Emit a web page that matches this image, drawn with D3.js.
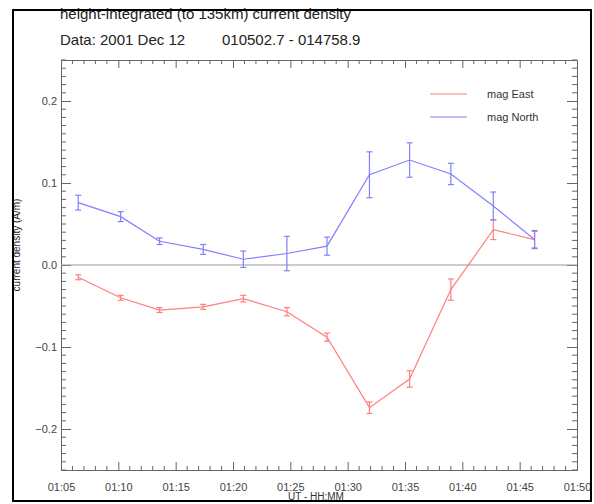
<!DOCTYPE html>
<html>
<head>
<meta charset="utf-8">
<script src="https://cdn.jsdelivr.net/npm/d3@7"></script>
<style>
  body { margin: 0; background: #fff; }
  svg text { font-family: "Liberation Sans", Arial, sans-serif; }
</style>
</head>
<body>
<div id="chart"></div>
<script>
// DATA (time in minutes after 01:00 UT)
const times = [6.5, 10.2, 13.6, 17.4, 20.9, 24.7, 28.2, 31.9, 35.4, 39.0, 42.7, 46.3]
const eastValues = [-0.015, -0.040, -0.055, -0.051, -0.041, -0.057, -0.088, -0.174, -0.139, -0.030, 0.043, 0.031]
const eastErrors = [0.003, 0.003, 0.003, 0.003, 0.004, 0.005, 0.005, 0.007, 0.010, 0.013, 0.012, 0.010]
const northValues = [0.076, 0.059, 0.029, 0.019, 0.007, 0.014, 0.023, 0.110, 0.128, 0.111, 0.072, 0.031]
const northErrors = [0.009, 0.006, 0.004, 0.006, 0.010, 0.021, 0.011, 0.028, 0.021, 0.013, 0.017, 0.011]
const xTickLabels = ["01:05", "01:10", "01:15", "01:20", "01:25", "01:30", "01:35", "01:40", "01:45", "01:50"]
const yTicks = [-0.2, -0.1, 0.0, 0.1, 0.2]

const series = [
  { name: "mag East", color: "#ff7f7f", values: eastValues, errors: eastErrors },
  { name: "mag North", color: "#8080ff", values: northValues, errors: northErrors },
]

// DIMENSIONS
const dimensions = {
  width: 594,
  height: 504,
  margin: { top: 60, right: 17, bottom: 34, left: 61 },
}
dimensions.boundedWidth = dimensions.width - dimensions.margin.left - dimensions.margin.right
dimensions.boundedHeight = dimensions.height - dimensions.margin.top - dimensions.margin.bottom

const wrapper = d3.select("#chart")
  .append("svg")
  .attr("width", dimensions.width)
  .attr("height", dimensions.height)

// TITLES
wrapper.append("text")
  .attr("x", 60).attr("y", 19)
  .attr("font-size", 15).attr("fill", "#222")
  .text("height-integrated (to 135km) current density")
wrapper.append("text")
  .attr("x", 60).attr("y", 45)
  .attr("font-size", 15).attr("fill", "#222")
  .text("Data: 2001 Dec 12")
wrapper.append("text")
  .attr("x", 222).attr("y", 45)
  .attr("font-size", 15).attr("fill", "#222")
  .text("010502.7 - 014758.9")

const bounds = wrapper.append("g")
  .attr("transform", `translate(${dimensions.margin.left},${dimensions.margin.top})`)

// SCALES
const xScale = d3.scaleLinear()
  .domain([5, 50])
  .range([0, dimensions.boundedWidth])
const yScale = d3.scaleLinear()
  .domain([-0.25, 0.25])
  .range([dimensions.boundedHeight, 0])

const axisColor = "#666"
const majorX = 8, minorX = 4, majorY = 10, minorY = 5

// AXES (IDL style, ticks inward on all four sides)
const xMajor = d3.range(5, 51, 5)
const xMinor = d3.range(5, 51, 1).filter(d => d % 5 !== 0)
const yMinor = d3.range(-25, 26, 1).map(d => d / 100).filter(d => Math.round(d * 100) % 10 !== 0)

const xAxisBottom = d3.axisBottom(xScale).tickValues(xMajor)
  .tickSize(-majorX).tickPadding(13)
  .tickFormat((d, i) => xTickLabels[i])
const xAxisTop = d3.axisTop(xScale).tickValues(xMajor)
  .tickSize(-majorX).tickFormat("")
const yAxisLeft = d3.axisLeft(yScale).tickValues(yTicks)
  .tickSize(-majorY).tickPadding(4)
  .tickFormat(d3.format(".1f"))
const yAxisRight = d3.axisRight(yScale).tickValues(yTicks)
  .tickSize(-majorY).tickFormat("")

const styleAxis = g => {
  g.select(".domain").attr("stroke", axisColor)
  g.selectAll(".tick line").attr("stroke", axisColor)
  g.selectAll(".tick text").attr("fill", "#444").attr("font-size", 11)
}

bounds.append("g").attr("transform", `translate(0,${dimensions.boundedHeight})`)
  .call(xAxisBottom).call(styleAxis)
bounds.append("g").call(xAxisTop).call(styleAxis)
bounds.append("g").call(yAxisLeft).call(styleAxis)
bounds.append("g").attr("transform", `translate(${dimensions.boundedWidth},0)`)
  .call(yAxisRight).call(styleAxis)

// minor ticks
const minor = bounds.append("g").attr("stroke", axisColor)
minor.selectAll(".mxb").data(xMinor).join("line").attr("class", "mxb")
  .attr("x1", d => xScale(d)).attr("x2", d => xScale(d))
  .attr("y1", dimensions.boundedHeight).attr("y2", dimensions.boundedHeight - minorX)
minor.selectAll(".mxt").data(xMinor).join("line").attr("class", "mxt")
  .attr("x1", d => xScale(d)).attr("x2", d => xScale(d))
  .attr("y1", 0).attr("y2", minorX)
minor.selectAll(".myl").data(yMinor).join("line").attr("class", "myl")
  .attr("x1", 0).attr("x2", minorY)
  .attr("y1", d => yScale(d)).attr("y2", d => yScale(d))
minor.selectAll(".myr").data(yMinor).join("line").attr("class", "myr")
  .attr("x1", dimensions.boundedWidth).attr("x2", dimensions.boundedWidth - minorY)
  .attr("y1", d => yScale(d)).attr("y2", d => yScale(d))

// zero line
bounds.append("line")
  .attr("x1", 0).attr("x2", dimensions.boundedWidth)
  .attr("y1", yScale(0)).attr("y2", yScale(0))
  .attr("stroke", "#999").attr("stroke-width", 1.2)

// axis labels
bounds.append("text")
  .attr("transform", `translate(${20 - dimensions.margin.left},${yScale(0) - 20}) rotate(-90)`)
  .attr("text-anchor", "middle")
  .attr("font-size", 10).attr("fill", "#222")
  .text("current density (A/m)")
bounds.append("text")
  .attr("x", xScale(27.5) - 3).attr("y", dimensions.boundedHeight + 30)
  .attr("text-anchor", "middle")
  .attr("font-size", 10).attr("fill", "#333")
  .text("UT - HH:MM")

// SERIES
const line = d3.line()
  .x((d, i) => xScale(times[i]))
  .y(d => yScale(d))

series.forEach(s => {
  const g = bounds.append("g").attr("stroke", s.color).attr("fill", "none").attr("stroke-width", 1.2)
  g.append("path").attr("d", line(s.values))
  const bars = g.selectAll(".err").data(s.values).join("g")
  bars.append("line")
    .attr("x1", (d, i) => xScale(times[i])).attr("x2", (d, i) => xScale(times[i]))
    .attr("y1", (d, i) => yScale(d - s.errors[i])).attr("y2", (d, i) => yScale(d + s.errors[i]))
  bars.append("line")
    .attr("x1", (d, i) => xScale(times[i]) - 3).attr("x2", (d, i) => xScale(times[i]) + 3)
    .attr("y1", (d, i) => yScale(d - s.errors[i])).attr("y2", (d, i) => yScale(d - s.errors[i]))
  bars.append("line")
    .attr("x1", (d, i) => xScale(times[i]) - 3).attr("x2", (d, i) => xScale(times[i]) + 3)
    .attr("y1", (d, i) => yScale(d + s.errors[i])).attr("y2", (d, i) => yScale(d + s.errors[i]))
})

// LEGEND
const legend = wrapper.append("g")
series.forEach((s, i) => {
  const y = 94 + i * 23
  legend.append("line")
    .attr("x1", 430).attr("x2", 467).attr("y1", y).attr("y2", y)
    .attr("stroke", s.color).attr("stroke-width", 1.2)
  legend.append("text")
    .attr("x", 487).attr("y", y + 4)
    .attr("font-size", 11).attr("fill", "#333")
    .text(s.name)
})

// OUTER FRAME
wrapper.append("rect")
  .attr("x", 13).attr("y", 10)
  .attr("width", 578).attr("height", 491)
  .attr("fill", "none").attr("stroke", "#000").attr("stroke-width", 2)
</script>
</body>
</html>
